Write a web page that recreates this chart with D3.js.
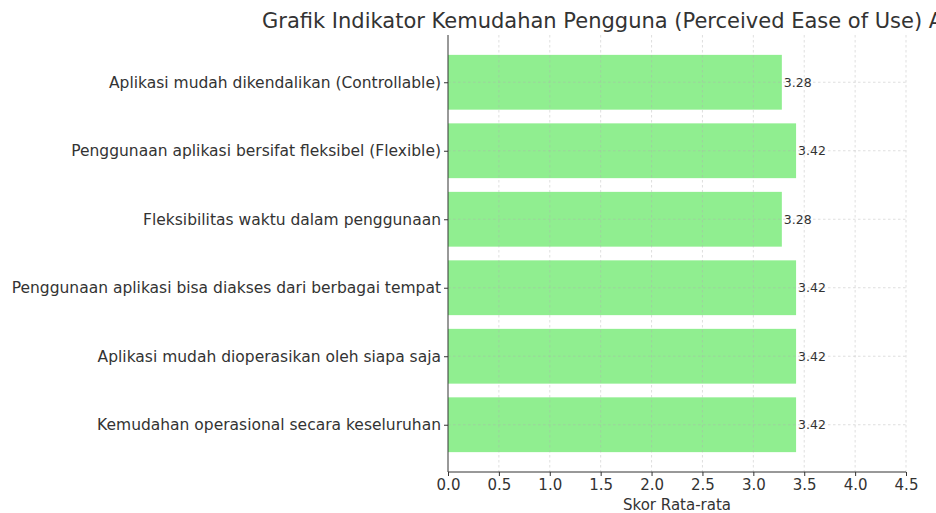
<!DOCTYPE html>
<html>
<head>
<meta charset="utf-8">
<script src="https://cdn.jsdelivr.net/npm/d3@7"></script>
<style>
  body { margin: 0; background: #fff; overflow: hidden; }
  text { font-family: "DejaVu Sans", sans-serif; }
</style>
</head>
<body>
<div id="chart"></div>
<script>
// data, top to bottom
var labels = [
  "Aplikasi mudah dikendalikan (Controllable)",
  "Penggunaan aplikasi bersifat fleksibel (Flexible)",
  "Fleksibilitas waktu dalam penggunaan",
  "Penggunaan aplikasi bisa diakses dari berbagai tempat",
  "Aplikasi mudah dioperasikan oleh siapa saja",
  "Kemudahan operasional secara keseluruhan"
];
var scores = [3.28, 3.42, 3.28, 3.42, 3.42, 3.42];
var xTicks = [0, 0.5, 1, 1.5, 2, 2.5, 3, 3.5, 4, 4.5];

var width = 936, height = 513;
var margin = {top: 35, right: 30, bottom: 41, left: 448};
var plotW = width - margin.left - margin.right;
var plotH = height - margin.top - margin.bottom;

var svg = d3.select("#chart").append("svg")
  .attr("width", width)
  .attr("height", height);

var g = svg.append("g")
  .attr("transform", "translate(" + margin.left + "," + margin.top + ")");

//x scale, 0 to 4.5
var x = d3.scaleLinear().domain([0, 4.5]).range([0, plotW]);

//y: index positions like matplotlib barh (top first)
var n = labels.length;
var y = d3.scaleLinear().domain([-0.69, n - 1 + 0.69]).range([0, plotH]);
var barH = y(0.4) - y(-0.4);

//bars
g.selectAll("rect.bar").data(scores).enter().append("rect")
  .attr("class", "bar")
  .attr("x", x(0))
  .attr("y", function(d, i) { return y(i) - barH / 2; })
  .attr("width", function(d) { return x(d) - x(0); })
  .attr("height", barH)
  .attr("fill", "#90ee90");

//grid (drawn above bars, faint dashed)
g.selectAll("line.vgrid").data(xTicks.slice(1)).enter().append("line")
  .attr("x1", function(d) { return x(d); })
  .attr("x2", function(d) { return x(d); })
  .attr("y1", 0).attr("y2", plotH)
  .attr("stroke", "#b0b0b0")
  .attr("stroke-opacity", 0.5)
  .attr("stroke-dasharray", "2.5,2.5")
  .attr("stroke-width", 0.8);

g.selectAll("line.hgrid").data(scores).enter().append("line")
  .attr("x1", 0).attr("x2", plotW)
  .attr("y1", function(d, i) { return y(i); })
  .attr("y2", function(d, i) { return y(i); })
  .attr("stroke", "#b0b0b0")
  .attr("stroke-opacity", 0.5)
  .attr("stroke-dasharray", "2.5,2.5")
  .attr("stroke-width", 0.8);

//value labels
g.selectAll("text.val").data(scores).enter().append("text")
  .attr("x", function(d) { return x(d) + 2; })
  .attr("y", function(d, i) { return y(i); })
  .attr("dy", "0.35em")
  .attr("font-size", "12.5px")
  .attr("fill", "#333")
  .text(function(d) { return d.toFixed(2); });

//x axis
var xAxis = g.append("g")
  .attr("transform", "translate(0," + plotH + ")")
  .call(d3.axisBottom(x).tickValues(xTicks).tickFormat(d3.format(".1f")).tickSize(4).tickPadding(3));
xAxis.selectAll("text").attr("font-size", "15px").attr("fill", "#333");
xAxis.selectAll("line").attr("stroke", "#333");
xAxis.select(".domain").attr("stroke", "#333").attr("d", "M0,0H" + plotW);

//y axis
var yAxis = g.append("g")
  .call(d3.axisLeft(y).tickValues(d3.range(n)).tickFormat(function(i) { return labels[i]; }).tickSize(4).tickPadding(3));
yAxis.selectAll("text").attr("font-size", "15.5px").attr("fill", "#333");
yAxis.selectAll("line").attr("stroke", "#333");
yAxis.select(".domain").attr("stroke", "#333").attr("d", "M0,0V" + plotH);

//axis title
svg.append("text")
  .attr("x", margin.left + plotW / 2)
  .attr("y", height - 3)
  .attr("text-anchor", "middle")
  .attr("font-size", "15px")
  .attr("fill", "#333")
  .text("Skor Rata-rata");

//chart title (runs off the right edge like the original)
svg.append("text")
  .attr("x", 262)
  .attr("y", 28)
  .attr("font-size", "21px")
  .attr("fill", "#333")
  .text("Grafik Indikator Kemudahan Pengguna (Perceived Ease of Use) Aplikasi");
</script>
</body>
</html>
